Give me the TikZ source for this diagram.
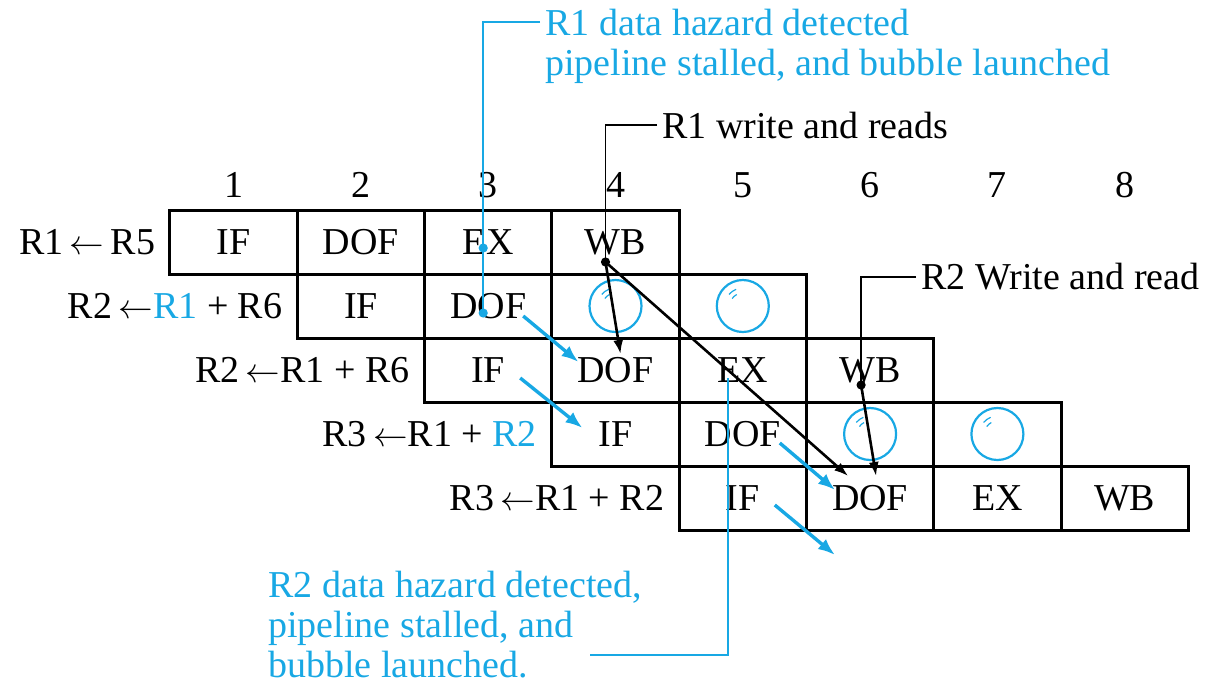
\documentclass[tikz,border=0pt]{standalone}
\usepackage{fontspec}
\setmainfont{Liberation Serif}
\usetikzlibrary{arrows.meta, calc}

\definecolor{hazard}{RGB}{24,168,228}

\begin{document}
\begin{tikzpicture}[x=0.5pt, y=-0.5pt,
        every node/.style={font=\fontsize{19}{20}\selectfont, inner sep=0pt},
        cell/.style={draw, line width=1.5pt, minimum width=63.65pt, minimum height=32pt},
        bubble/.style={hazard, line width=1.1pt},
        note/.style={align=left},
        lead/.style={line width=0.9pt},
        flow/.style={hazard, line width=1.7pt, -{Latex[length=8.5pt, width=6.5pt]}},
        dep/.style={line width=1.3pt, -{Latex[length=7pt, width=5pt]}}]
        % Varijable mreze (u pikselima)
        \def\colw{127.3} % sirina stupca
        \def\rowh{64} % visina retka
        \def\xo{233.6} % sredina prvog stupca
        \def\yo{242} % sredina prvog retka

        \useasboundingbox (0,0) rectangle (1224,686);

        % Brojevi taktova
        \foreach \c in {1,...,8} {
            \node (n\c) at ({\xo+(\c-1)*\colw}, 185) {\c};
        }

        % Faze protocne trake
        \foreach \r/\a/\b/\c/\d in {1/IF/DOF/EX/WB, 2/IF/DOF//, 3/IF/DOF/EX/WB, 4/IF/DOF//, 5/IF/DOF/EX/WB} {
            \foreach \s [count=\k from 0] in {\a,\b,\c,\d} {
                \node[cell] (c\r-\k) at ({\xo+(\r+\k-1)*\colw}, {\yo+(\r-1)*\rowh}) {\s};
            }
        }

        % Instrukcije
        \foreach \r/\txt in {1/R1\,$\leftarrow$\,R5,
                2/R2\,$\leftarrow$\textcolor{hazard}{R1} + R6,
                3/R2\,$\leftarrow$R1 + R6,
                4/R3\,$\leftarrow$R1 + \textcolor{hazard}{R2},
                5/R3\,$\leftarrow$R1 + R2} {
            \node[anchor=east] (i\r) at ($(c\r-0.west)+(-13,0)$) {\txt};
        }

        % Mjehurici (bubbles)
        \foreach \r in {2,4} {
            \foreach \k in {2,3} {
                \draw[bubble] (c\r-\k) circle (13pt);
                \draw[bubble, line width=0.6pt] ($(c\r-\k)+(140:9pt)$) arc (140:112:9pt);
                \draw[bubble, line width=0.6pt] ($(c\r-\k)+(145:6.5pt)$) arc (145:118:6.5pt);
            }
        }

        % Tocke za strelice
        \coordinate (w1) at ($(c1-3)+(-10,20)$);
        \coordinate (w2) at ($(c3-3)+(-9,15)$);
        \coordinate (h1) at ($(c1-2)+(-5,6)$);
        \coordinate (h2) at ($(c2-1)+(-5,7)$);
        \coordinate (h3) at ($(c3-2)+(-15,8)$);
        \coordinate (h4) at (590,655);
        \coordinate (out) at (835,555);

        % Ovisnosti R1 i R2
        \draw[dep] (w1) -- ($(c3-1)+(5,-16)$);
        \draw[dep] (w1) -- ($(c5-1)+(-22,-22)$);
        \draw[dep] (w2) -- ($(c5-1)+(6,-22)$);
        \fill (w1) circle (2.3pt);
        \fill (w2) circle (2.3pt);

        % Natpisi
        \node[note, anchor=west] (wr1) at (662,125) {R1 write and reads};
        \node[note, anchor=west] (wr2) at (921,277) {R2 Write and read};
        \draw[lead] (wr1.west) ++(-5,0) -| (w1);
        \draw[lead] (wr2.west) ++(-5,0) -| (w2);

        \node[note, text=hazard, anchor=north west] (haz1) at (545,9)
            {R1 data hazard detected\\pipeline stalled, and bubble launched};
        \node[note, text=hazard, anchor=north west] (haz2) at (268,571)
            {R2 data hazard detected,\\pipeline stalled, and\\bubble launched.};
        \draw[lead, hazard] (haz1.north west) ++(-5,13) -| (h2);
        \fill[hazard] (h1) circle (2.3pt);
        \fill[hazard] (h2) circle (2.3pt);
        \draw[lead, hazard] (h4) -| (h3);

        % Zastoj (stall) strelice
        \draw[flow] ($(c2-1)+(35,10)$) -- ($(c3-1)+(-37,-8)$);
        \draw[flow] ($(c3-0)+(32,8)$) -- ($(c4-0)+(-33,-6)$);
        \draw[flow] ($(c4-1)+(37,9)$) -- ($(c5-1)+(-35,-8)$);
        \draw[flow] ($(c5-0)+(32,7)$) -- (out);

    \end{tikzpicture}
\end{document}
